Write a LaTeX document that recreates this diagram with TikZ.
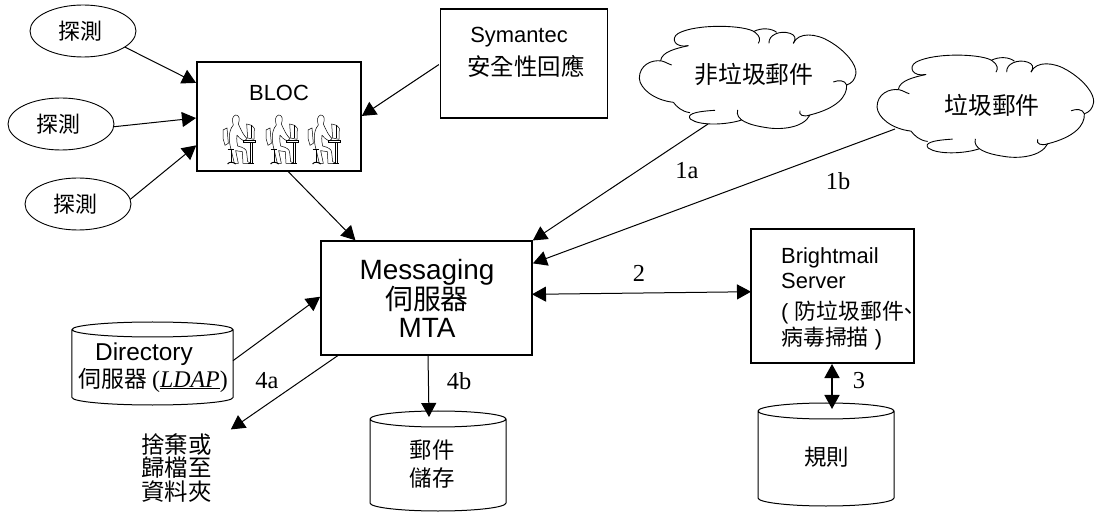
\documentclass[tikz,border=0pt]{standalone}
\usepackage{fontspec}
\setmainfont{Liberation Sans}
\newfontfamily\cjk{Noto Sans CJK TC}
\newfontfamily\lblfont{Liberation Serif}
\usetikzlibrary{arrows.meta,shapes.geometric,calc}
\tikzset{
  boxnode/.style={draw,line width=1.9bp,rectangle,inner sep=0,outer sep=0},
  ovalnode/.style={draw,line width=.9bp,ellipse,inner sep=0,outer sep=0,minimum width=106bp,minimum height=52bp,font=\fontsize{22}{24}\selectfont\cjk},
  drum/.style={rectangle,inner sep=0,outer sep=0},
  conn/.style={line width=1bp,-{Triangle[length=14bp,width=15bp]},shorten >=1bp},
  dconn/.style={line width=1bp,{Triangle[length=14bp,width=15bp]}-{Triangle[length=14bp,width=15bp]}},
  lbl/.style={font=\fontsize{24.5}{26}\selectfont\lblfont,inner sep=0},
  txt/.style={inner sep=0,font=\fontsize{22}{24}\selectfont,align=center},
}
% drum outline from a named node: node, vertical radius
\newcommand{\drumshape}[2]{%
\draw[line width=1bp] ($(#1.north west)+(0,#2)$) arc[start angle=180,end angle=-180,x radius=.5*\drumw,y radius=#2]
  -- ($(#1.south west)+(0,-#2)$) arc[start angle=180,end angle=360,x radius=.5*\drumw,y radius=-#2]
  -- ($(#1.north east)+(0,#2)$);}
\newcommand{\cloudshape}[2]{%
\begin{scope}[shift={(#1,#2)},x=.3333bp,y=-.3333bp,line width=.9bp]
\draw (205,137) .. controls (165,145) and (150,115) .. (175,100) .. controls (230,70) and (380,75) .. (405,97) .. controls (420,108) and (422,120) .. (415,130);
\draw (400,95) .. controls (425,82) and (455,85) .. (470,97);
\draw (447,130) .. controls (445,105) and (480,90) .. (510,100) .. controls (525,105) and (530,115) .. (520,130);
\draw (520,130) .. controls (535,95) and (590,100) .. (630,125) .. controls (680,155) and (710,195) .. (708,220) .. controls (705,240) and (695,250) .. (680,255);
\draw (640,246) .. controls (655,240) and (675,240) .. (680,255) .. controls (682,290) and (650,325) .. (570,345) .. controls (550,352) and (535,345) .. (540,332);
\draw (570,345) .. controls (550,385) and (480,390) .. (440,383) .. controls (385,375) and (345,360) .. (353,330);
\draw (365,360) .. controls (320,375) and (240,378) .. (212,358) .. controls (200,345) and (215,335) .. (285,331);
\draw (210,338) .. controls (185,335) and (170,320) .. (160,307);
\draw (160,307) .. controls (100,300) and (60,265) .. (58,235) .. controls (58,195) and (95,178) .. (125,183) .. controls (135,185) and (145,192) .. (155,195);
\draw (122,182) .. controls (125,155) and (170,145) .. (205,137);
\end{scope}}
\newcommand{\personicon}[2]{%
\begin{scope}[shift={(#1,#2)},x=.3333bp,y=-.3333bp,line width=.5bp]
\draw (55,45) .. controls (50,30) and (52,18) .. (62,15) .. controls (72,14) and (76,28) .. (70,42) .. controls (78,60) and (85,75) .. (96,86) -- (88,93) .. controls (78,88) and (70,82) .. (66,76) .. controls (64,90) and (66,100) .. (68,108) .. controls (85,112) and (95,118) .. (95,128) -- (98,155) -- (108,160) -- (84,160) -- (82,125) -- (62,122) -- (70,160) -- (58,160) -- (48,118) .. controls (42,95) and (38,65) .. (55,45);
\draw (24,60) -- (36,54) -- (40,100) -- (30,106) -- (24,85) -- cycle;
\draw (38,118) -- (58,118);
\draw (48,120) -- (48,155);
\draw[line width=1bp] (38,162) .. controls (42,155) and (54,155) .. (62,162);
\draw (95,42) -- (110,46) -- (118,55) -- (117,88) -- (98,84) -- cycle;
\draw (110,46) -- (110,85);
\draw (85,92) -- (120,92) -- (120,98) -- (85,98) -- cycle;
\draw (106,98) -- (106,160) (111,98) -- (111,160);
\draw[line width=1bp] (98,162) -- (116,162);
\end{scope}}
\begin{document}
\begin{tikzpicture}[x=1bp,y=-1bp]
\useasboundingbox (0,0) rectangle (1101,512);
% ovals
\node[ovalnode] (e1) at (83,31) {探測\kern5bp};
\node[ovalnode] (e2) at (61,124) {探測\kern5bp};
\node[ovalnode] (e3) at (78,204) {探測\kern5bp};
% boxes
\node[boxnode,minimum width=164bp,minimum height=109bp] (bloc) at (279,116.5) {};
\node[txt] (bloctxt) at (279,93) {BLOC};
\personicon{215}{110}
\personicon{258}{110}
\personicon{300}{110}
\node[boxnode,minimum width=167bp,minimum height=109bp] (sym) at (524,63.5) {};
\node[txt] (symtxt) at (519,37) {Symantec};
\node[txt,font=\fontsize{23.5}{24}\selectfont\cjk] (symtxt2) at (526,66) {安全性回應};
\node[boxnode,minimum width=211bp,minimum height=114bp] (msg) at (426.5,298) {};
\node[inner sep=0,align=center,font=\fontsize{28}{28.5}\selectfont] (msgtxt) at (427,298.5) {Messaging\\{\cjk 伺服器}\\MTA};
\node[boxnode,minimum width=163bp,minimum height=134bp] (bright) at (832.5,296) {};
\node[inner sep=0,align=left,anchor=north west,font=\fontsize{22}{26}\selectfont] (brighttxt) at (781,247) {Brightmail\\Server\\[5bp]( {\cjk 防垃圾郵件\kern-7bp、}\\{\cjk 病毒掃描} )};
% drums
\def\drumw{161}
\node[drum,minimum width=161bp,minimum height=83bp] (dir) at (152.5,363.5) {};
\drumshape{dir}{7.5}
\node[txt,font=\fontsize{24.5}{26}\selectfont] (dirtxt1) at (144,354) {Directory};
\node[txt,font=\fontsize{23}{24}\selectfont\cjk] (dirtxt2) at (153,380) {伺服器 {\lblfont\fontsize{24}{24}\selectfont (\underline{\textit{LDAP}})}};
\def\drumw{136}
\node[drum,minimum width=136bp,minimum height=100bp] (store) at (438,461) {};
\drumshape{store}{8}
\node[txt,font=\fontsize{22.5}{28}\selectfont\cjk] (storetxt) at (432,464) {郵件\\儲存};
\node[drum,minimum width=136bp,minimum height=103bp] (rules) at (826,454.5) {};
\drumshape{rules}{8}
\node[txt,font=\fontsize{22.5}{24}\selectfont\cjk] (rulestxt) at (826.5,457) {規則};
\node[txt,font=\fontsize{23.5}{24}\selectfont\cjk] (drop) at (176.5,468) {捨棄或\\歸檔至\\資料夾};
\coordinate (dropend) at (230,430);
\coordinate (storeend) at (429,418);
\coordinate (rulesend) at (832,409);
\coordinate (brightend) at (832,364);
\coordinate (msgbase) at (428,355);
% clouds
\cloudshape{620}{0}
\cloudshape{857.7}{28.8}
\coordinate (c1) at (708,124);
\coordinate (c2) at (895,129);
\node[txt,font=\fontsize{24}{24}\selectfont\cjk] (c1txt) at (754,74) {非垃圾郵件};
\node[txt,font=\fontsize{24}{24}\selectfont\cjk] (c2txt) at (992,105) {垃圾郵件};
% connectors
\draw[conn] (e1.-21) -- (bloc.158);
\draw[conn] (e2.-3) -- (bloc.181);
\draw[conn] (e3.5) -- (bloc.199);
\draw[conn,shorten <=2bp] (sym.west) -- (bloc.east);
\draw[conn] (bloc.-81) -- (msg.141.4);
\draw[conn] (c1) -- (msg.north east);
\draw[conn] (c2) -- (msg.18.3);
\draw[dconn] (msg.2.7) -- (bright.177.9);
\draw[dconn,line width=1.7bp] (brightend) -- (rulesend);
\draw[conn] (dir.2.5) -- (msg.179.5);
\draw[conn] (msg.-147.6) -- (dropend);
\draw[conn] (msgbase) -- (storeend);
% labels
\node[lbl] (l1a) at (687,171) {1a};
\node[lbl] (l1b) at (838,181) {1b};
\node[lbl] (l2) at (639,273) {2};
\node[lbl] (l3) at (859,381) {3};
\node[lbl] (l4a) at (267,381) {4a};
\node[lbl] (l4b) at (459,381) {4b};
\end{tikzpicture}
\end{document}
